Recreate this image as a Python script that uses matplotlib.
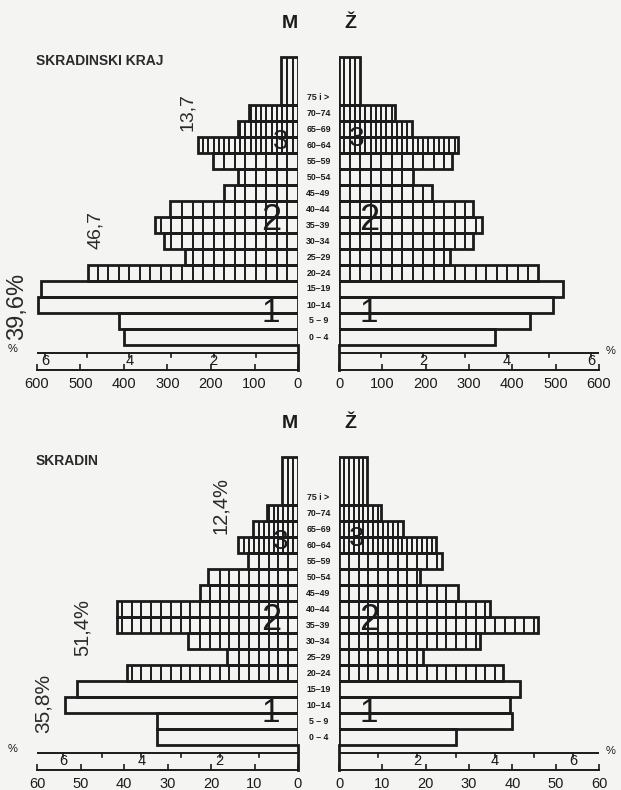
import numpy as np
import matplotlib.pyplot as plt

plt.rcParams['font.family'] = ['Liberation Sans', 'DejaVu Sans']

BG = '#f4f4f3'
INK = '#1b1b1b'

# age groups, bottom to top
age_groups = ["0 – 4", "5 – 9", "10–14", "15–19", "20–24", "25–29", "30–34", "35–39",
              "40–44", "45–49", "50–54", "55–59", "60–64", "65–69", "70–74", "75 i >"]
# 75 i > is drawn three rows tall
row_height = [1] * 15 + [3]

# Skradinski kraj, number of persons
kraj_m = [400, 411, 598, 591, 483, 260, 308, 329, 294, 170, 138, 195, 230, 138, 113, 39]
kraj_z = [360, 441, 493, 517, 459, 256, 309, 329, 309, 214, 170, 260, 275, 168, 129, 48]

# Skradin, number of persons
skradin_m = [32.4, 32.4, 53.6, 50.9, 39.4, 16.4, 25.3, 41.7, 41.7, 22.5, 20.7, 11.5, 13.8, 10.3, 7.1, 3.7]
skradin_z = [26.9, 39.9, 39.5, 41.8, 37.8, 19.4, 32.5, 45.9, 34.8, 27.5, 18.7, 23.7, 22.4, 14.8, 9.6, 6.4]

# persons equal to 1 % on the percent scale
kraj_pct = 97
skradin_pct = 9.0

W, H = 621, 790
fig = plt.figure(figsize=(W / 100, H / 100), dpi=100)
fig.patch.set_facecolor(BG)


def fx(x):
    return x / W


def fy(y):
    return 1 - y / H


def ftext(x, y, s, **kw):
    kw.setdefault('color', INK)
    fig.text(fx(x), fy(y), s, ha='center', va='center', **kw)


def draw_panel(oy, title, men, women, per_pct, xmax, step, shares):
    y_lo, y_hi = -1.56, 18.6
    base = 345 + oy
    bot_px = base - y_lo * 16
    top_px = base - y_hi * 16
    axl = fig.add_axes([fx(37), fy(bot_px), fx(298 - 37), (bot_px - top_px) / H])
    axr = fig.add_axes([fx(339), fy(bot_px), fx(599 - 339), (bot_px - top_px) / H])

    for ax, vals in ((axl, men), (axr, women)):
        ax.set_facecolor('none')
        ax.set_ylim(y_lo, y_hi)
        if ax is axl:
            ax.set_xlim(xmax, 0)
        else:
            ax.set_xlim(0, xmax)
        for s in ('top', 'left', 'right'):
            ax.spines[s].set_visible(False)
        ax.spines['bottom'].set_linewidth(1.4)
        ax.spines['bottom'].set_color(INK)
        ax.set_yticks([])
        ax.set_xticks(np.arange(0, xmax + 1, step))
        ax.tick_params(axis='x', direction='in', length=4, width=1.2, color=INK,
                       labelsize=10.5, labelcolor=INK, pad=5)

        rows = np.arange(len(vals))
        ax.barh(rows, vals, height=row_height, align='edge', color=BG,
                edgecolor='none', zorder=2)

        # grid cells: group 2 wide cells, group 3 narrow strips
        hx, hlo, hhi = [], [], []
        for i, v in enumerate(vals):
            if i < 4:
                continue
            cell = per_pct / 4 if i < 12 else per_pct / 8
            for x in np.arange(cell, v - cell * 0.3, cell):
                hx.append(x)
                hlo.append(i)
                hhi.append(i + row_height[i])
        ax.vlines(hx, hlo, hhi, colors=INK, linewidths=1.4, zorder=3)

        # bar outlines
        ax.barh(rows, vals, height=row_height, align='edge', color='none',
                edgecolor=INK, linewidth=2.0, zorder=4)

        # central line down to the scale
        ax.plot([0, 0], [y_lo, 0], color=INK, lw=2.0, clip_on=False)

        # percent scale
        ax.axhline(-0.5, color=INK, lw=1.4)
        for p in range(1, 7):
            ax.plot([p * per_pct] * 2, [-0.5, -0.72], color=INK, lw=1.2)
            if p % 2 == 0:
                ax.text(p * per_pct, -1.02, str(p), ha='center', va='center',
                        fontsize=10.5, color=INK)

    ftext(13, 349 + oy, '%', fontsize=8)
    ftext(611, 351 + oy, '%', fontsize=8)

    # age labels in the middle
    for i, lab in enumerate(age_groups):
        yc = base - (i + 0.5) * 16
        ftext(318.5, yc, lab, fontsize=6.3, fontweight='bold')

    ftext(290, 23 + oy, 'M', fontsize=14, fontweight='bold')
    ftext(350, 23 + oy, 'Ž', fontsize=14, fontweight='bold')
    fig.text(fx(36), fy(61 + oy), title, ha='left', va='center',
             fontsize=10, fontweight='bold', color='#2a2a2a')

    for (x, y, s, fs) in shares:
        ftext(x, y + oy, s, fontsize=fs, rotation=90, color='#2a2a2a')

    # group numbers
    ftext(281, base - 12.7 * 16, '3', fontsize=20)
    ftext(357, base - 12.9 * 16, '3', fontsize=20)
    ftext(271, base - 7.8 * 16, '2', fontsize=26)
    ftext(369, base - 7.8 * 16, '2', fontsize=26)
    ftext(271, base - 2.0 * 16, '1', fontsize=24)
    ftext(369, base - 2.0 * 16, '1', fontsize=24)


draw_panel(0, 'SKRADINSKI KRAJ', kraj_m, kraj_z, kraj_pct, 600, 100,
           [(187, 112, '13,7', 14), (95, 230, '46,7', 14), (17, 306, '39,6%', 17)])
draw_panel(400, 'SKRADIN', skradin_m, skradin_z, skradin_pct, 60, 10,
           [(220, 106, '12,4%', 14.5), (82, 228, '51,4%', 14.5), (43, 303, '35,8%', 15)])

fig.savefig('out.png', dpi=100, facecolor=BG)
